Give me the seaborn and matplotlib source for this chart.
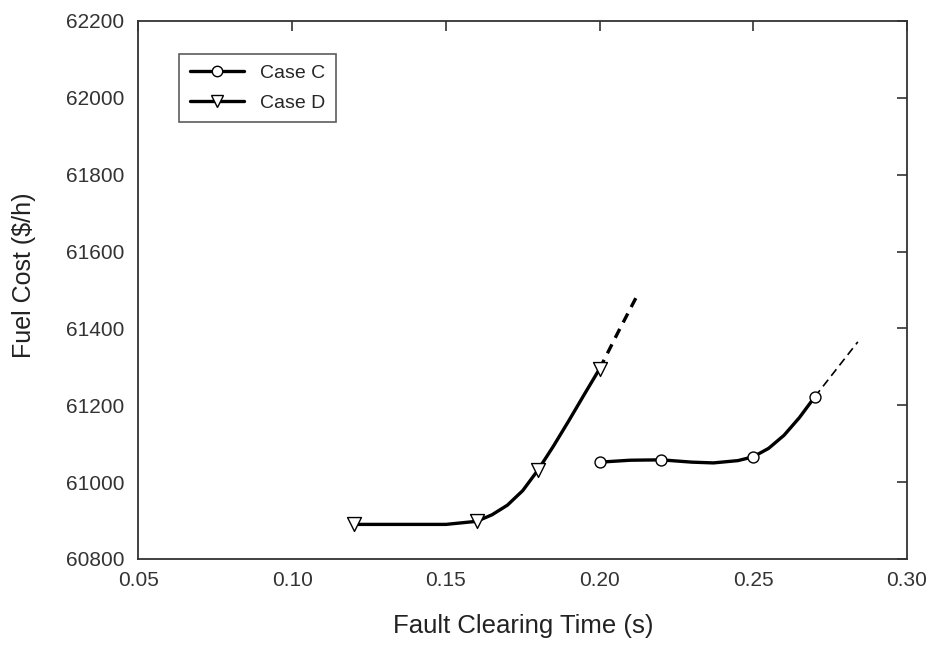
import numpy as np
import pandas as pd
import seaborn as sns
import matplotlib.pyplot as plt
from matplotlib.lines import Line2D

# values
# Case C: markers, solid curve, thin dashed extension
c_time = [0.20, 0.22, 0.25, 0.27]
c_cost = [61052, 61058, 61066, 61222]
c_line_time = [0.20, 0.21, 0.22, 0.23, 0.237, 0.245, 0.25, 0.255, 0.26, 0.265, 0.27]
c_line_cost = [61052, 61057, 61058, 61052, 61050, 61056, 61066, 61088, 61122, 61168, 61222]
c_dash_time = [0.27, 0.284]
c_dash_cost = [61222, 61365]

# Case D: markers, solid curve, dashed extension
d_time = [0.12, 0.16, 0.18, 0.20]
d_cost = [60890, 60898, 61032, 61295]
d_line_time = [0.12, 0.15, 0.16, 0.165, 0.17, 0.175, 0.18, 0.185, 0.19, 0.195, 0.20]
d_line_cost = [60890, 60890, 60898, 60915, 60940, 60978, 61032, 61094, 61160, 61228, 61295]
d_dash_time = [0.20, 0.206, 0.2125]
d_dash_cost = [61295, 61390, 61490]

sns.set_style("white")
plt.rcParams['font.family'] = ['Liberation Sans', 'DejaVu Sans']

fig = plt.figure(figsize=(9.32, 6.46), dpi=100)
ax = fig.add_axes([0.1486, 0.1347, 0.8246, 0.8328])

lw = 2.4
sns.lineplot(x=d_line_time, y=d_line_cost, sort=False, color="black", lw=lw, ax=ax)
sns.lineplot(x=d_dash_time, y=d_dash_cost, sort=False, color="black", lw=lw,
             linestyle=(0, (3, 2.2)), ax=ax)
sns.lineplot(x=c_line_time, y=c_line_cost, sort=False, color="black", lw=lw, ax=ax)
sns.lineplot(x=c_dash_time, y=c_dash_cost, sort=False, color="black", lw=1.2,
             linestyle=(0, (5, 3)), ax=ax)

sns.scatterplot(x=d_time, y=d_cost, marker="v", s=100, facecolor="white",
                edgecolor="black", linewidth=1.0, zorder=5, ax=ax)
sns.scatterplot(x=c_time, y=c_cost, marker="o", s=62, facecolor="white",
                edgecolor="black", linewidth=1.0, zorder=5, ax=ax)

ax.set_xlim(0.05, 0.30)
ax.set_ylim(60800, 62200)
ax.set_xticks(np.arange(0.05, 0.301, 0.05))
ax.set_xticklabels(["0.05", "0.10", "0.15", "0.20", "0.25", "0.30"])
ax.set_yticks(np.arange(60800, 62201, 200))
ax.set_yticklabels([str(v) for v in range(60800, 62201, 200)])

ax.tick_params(direction="in", length=7, width=1.2, top=True, right=True,
               labelsize=15, colors="#333333", pad=10)
ax.tick_params(axis="x", pad=9)
for sp in ax.spines.values():
    sp.set_visible(True)
    sp.set_color("#333333")
    sp.set_linewidth(1.3)

ax.set_xlabel("Fault Clearing Time (s)", fontsize=18.5, color="#222222")
ax.set_ylabel("Fuel Cost ($/h)", fontsize=18, color="#222222")
ax.xaxis.set_label_coords(0.5, -0.103)
ax.yaxis.set_label_coords(-0.133, 0.527)

handles = [
    Line2D([0], [0], color="black", lw=2.4, marker="o", markersize=7.5,
           markerfacecolor="white", markeredgecolor="black"),
    Line2D([0], [0], color="black", lw=2.4, marker="v", markersize=9,
           markerfacecolor="white", markeredgecolor="black"),
]
leg = ax.legend(handles, ["Case C", "Case D"], loc="upper left",
                bbox_to_anchor=(0.0527, 0.9387), borderaxespad=0,
                fontsize=14, frameon=True, fancybox=False,
                edgecolor="#333333", handlelength=2.8, handletextpad=0.8,
                borderpad=0.55, labelspacing=0.6)
leg.get_frame().set_linewidth(1.2)

fig.savefig("out.png", dpi=100)
